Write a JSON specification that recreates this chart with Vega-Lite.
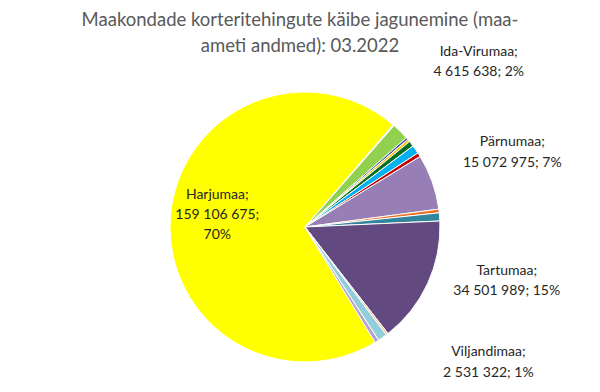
{
  "$schema": "https://vega.github.io/schema/vega-lite/v6.json",
  "autosize": "none",
  "width": 270,
  "height": 270,
  "padding": {"left": 170, "top": 92, "right": 160, "bottom": 30},
  "background": "white",
  "config": {"view": {"stroke": null}},
  "title": {
    "text": ["Maakondade korteritehingute käibe jagunemine (maa-", "ameti andmed): 03.2022"],
    "font": "Lato",
    "fontSize": 18.5,
    "fontWeight": "normal",
    "color": "#595959",
    "lineHeight": 26,
    "anchor": "middle",
    "frame": "group",
    "dx": -5,
    "offset": -10
  },
  "data": {
    "values": [
      {"i": 1, "county": "Harjumaa", "value": 159106675, "label": "Harjumaa;\n159 106 675;\n70%"},
      {"i": 2, "county": "Hiiumaa", "value": 340000, "label": ""},
      {"i": 3, "county": "Ida-Virumaa", "value": 4615638, "label": "Ida-Virumaa;\n4 615 638; 2%"},
      {"i": 4, "county": "Jõgevamaa", "value": 650000, "label": ""},
      {"i": 5, "county": "Järvamaa", "value": 700000, "label": ""},
      {"i": 6, "county": "Lääne-Virumaa", "value": 1500000, "label": ""},
      {"i": 7, "county": "Läänemaa", "value": 2300000, "label": ""},
      {"i": 8, "county": "Põlvamaa", "value": 1100000, "label": ""},
      {"i": 9, "county": "Pärnumaa", "value": 15072975, "label": "Pärnumaa;\n15 072 975; 7%"},
      {"i": 10, "county": "Raplamaa", "value": 1000000, "label": ""},
      {"i": 11, "county": "Saaremaa", "value": 2200000, "label": ""},
      {"i": 12, "county": "Tartumaa", "value": 34501989, "label": "Tartumaa;\n34 501 989; 15%"},
      {"i": 13, "county": "Valgamaa", "value": 550000, "label": ""},
      {"i": 14, "county": "Viljandimaa", "value": 2531322, "label": "Viljandimaa;\n2 531 322; 1%"},
      {"i": 15, "county": "Võrumaa", "value": 1100000, "label": ""}
    ]
  },
  "encoding": {
    "theta": {"field": "value", "type": "quantitative", "stack": true, "scale": {"range": [2.5958, 8.8790]}},
    "order": {"field": "i", "type": "quantitative"}
  },
  "layer": [
    {
      "mark": {"type": "arc", "stroke": "white", "strokeWidth": 1},
      "encoding": {
        "color": {
          "field": "county",
          "type": "nominal",
          "legend": null,
          "scale": {
            "domain": ["Harjumaa", "Hiiumaa", "Ida-Virumaa", "Jõgevamaa", "Järvamaa", "Lääne-Virumaa", "Läänemaa", "Põlvamaa", "Pärnumaa", "Raplamaa", "Saaremaa", "Tartumaa", "Valgamaa", "Viljandimaa", "Võrumaa"],
            "range": ["#FFFF00", "#D9E8F5", "#92D050", "#3A5BA0", "#FFC000", "#0A6E22", "#00B0F0", "#C00000", "#977FB5", "#F07020", "#31859C", "#624A80", "#FAC090", "#92CDDC", "#B3A2C7"]
          }
        }
      }
    },
    {
      "mark": {"type": "text", "radius": {"expr": "datum.county === 'Harjumaa' ? 88 : 0"}, "dy": -25, "font": "Lato", "fontSize": 14, "lineBreak": "\n", "lineHeight": 20, "color": "#262626"},
      "encoding": {"text": {"condition": {"test": "datum.county === 'Harjumaa'", "field": "label"}, "value": ""}}
    },
    {
      "mark": {"type": "text", "radius": {"expr": "datum.county === 'Ida-Virumaa' ? 243 : 0"}, "dx": 2, "dy": -3, "font": "Lato", "fontSize": 14, "lineBreak": "\n", "lineHeight": 20, "color": "#262626"},
      "encoding": {"text": {"condition": {"test": "datum.county === 'Ida-Virumaa'", "field": "label"}, "value": ""}}
    },
    {
      "mark": {"type": "text", "radius": {"expr": "datum.county === 'Pärnumaa' ? 220 : 0"}, "dy": -11, "font": "Lato", "fontSize": 14, "lineBreak": "\n", "lineHeight": 21, "color": "#262626"},
      "encoding": {"text": {"condition": {"test": "datum.county === 'Pärnumaa'", "field": "label"}, "value": ""}}
    },
    {
      "mark": {"type": "text", "radius": {"expr": "datum.county === 'Tartumaa' ? 209 : 0"}, "dx": 12, "dy": -44, "font": "Lato", "fontSize": 14, "lineBreak": "\n", "lineHeight": 20, "color": "#262626"},
      "encoding": {"text": {"condition": {"test": "datum.county === 'Tartumaa'", "field": "label"}, "value": ""}}
    },
    {
      "mark": {"type": "text", "radius": {"expr": "datum.county === 'Viljandimaa' ? 229 : 0"}, "dx": 52, "dy": -63, "font": "Lato", "fontSize": 14, "lineBreak": "\n", "lineHeight": 21, "color": "#262626"},
      "encoding": {"text": {"condition": {"test": "datum.county === 'Viljandimaa'", "field": "label"}, "value": ""}}
    }
  ]
}
